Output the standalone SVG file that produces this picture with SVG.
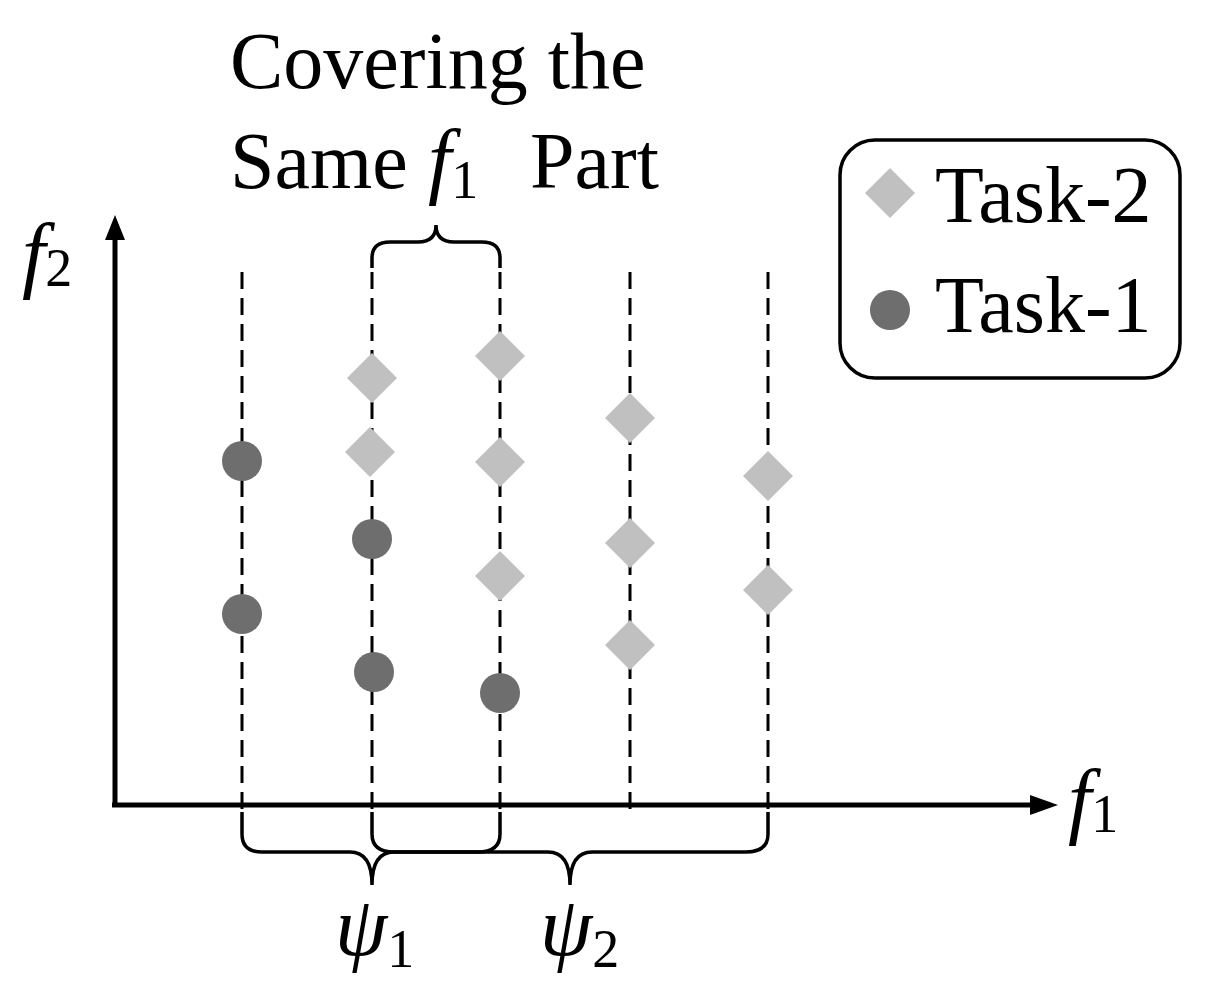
<svg xmlns="http://www.w3.org/2000/svg" width="1208" height="997" viewBox="0 0 1208 997">
<style>
.t{font-family:"Liberation Serif",serif;font-size:80px;fill:#000}
.i{font-family:"Liberation Serif",serif;font-style:italic;font-size:84px}
.s{font-family:"Liberation Serif",serif;font-style:normal;font-size:54px}
.d{stroke:#000;stroke-width:3;stroke-dasharray:17,9;fill:none}
.c{fill:#6e6e6e}
.m{fill:#c0c0c0}
.b{stroke:#000;stroke-width:3.5;fill:none}
</style>
<rect width="1208" height="997" fill="#fff"/>
<g id="title"><text class="t" x="230" y="88">Covering the</text>
<text class="t" x="230" y="188">Same</text>
<text class="i" x="428" y="188">f<tspan class="s" dy="10">1</tspan></text>
<text class="t" x="530" y="188">Part</text></g>
<g id="axes">
<line x1="115" y1="805" x2="115" y2="235" stroke="#000" stroke-width="5"/>
<path d="M105,240L115,215L125,240z"/>
<line x1="112" y1="805" x2="1035" y2="805" stroke="#000" stroke-width="5"/>
<path d="M1030,795L1058,805L1030,815z"/>
<text x="22" y="282" class="i">f<tspan class="s" dy="4">2</tspan></text>
<text x="1068" y="828" class="i">f<tspan class="s" dy="4">1</tspan></text>
</g>
<g id="connectors">
<line class="d" x1="242" y1="272" x2="242" y2="812"/>
<line class="d" x1="372" y1="272" x2="372" y2="812"/>
<line class="d" x1="500" y1="272" x2="500" y2="812"/>
<line class="d" x1="630" y1="272" x2="630" y2="812"/>
<line class="d" x1="768" y1="272" x2="768" y2="812"/>
<path class="b" d="M372,268V258Q372,242 390,242H418Q436,242 436,225Q436,242 454,242H482Q500,242 500,258V268"/>
<path class="b" d="M242,812V834Q242,852 262,852H350Q372,852 372,885Q372,852 394,852H478Q500,852 500,834V812"/>
<path class="b" d="M372,812V834Q372,852 394,852H548Q570,852 570,885Q570,852 592,852H746Q768,852 768,834V812"/>
</g>
<g id="task1">
<circle class="c" cx="242" cy="461" r="20"/><circle class="c" cx="242" cy="614" r="20"/>
<circle class="c" cx="372" cy="539" r="20"/><circle class="c" cx="374" cy="672" r="20"/>
<circle class="c" cx="500" cy="693" r="20"/>
</g>
<g id="task2">
<path class="m" d="M372,353l25,25l-25,25l-25,-25z"/>
<path class="m" d="M370,427l25,25l-25,25l-25,-25z"/>
<path class="m" d="M500,331l25,25l-25,25l-25,-25z"/>
<path class="m" d="M500,437l25,25l-25,25l-25,-25z"/>
<path class="m" d="M500,551l25,25l-25,25l-25,-25z"/>
<path class="m" d="M630,393l25,25l-25,25l-25,-25z"/>
<path class="m" d="M630,518l25,25l-25,25l-25,-25z"/>
<path class="m" d="M630,620l25,25l-25,25l-25,-25z"/>
<path class="m" d="M768,451l25,25l-25,25l-25,-25z"/>
<path class="m" d="M768,565l25,25l-25,25l-25,-25z"/>
</g>
<g id="psi">
<text x="335" y="955" class="i">ψ<tspan class="s" dy="12">1</tspan></text>
<text x="540" y="955" class="i">ψ<tspan class="s" dy="12">2</tspan></text>
</g>
<g id="legend">
<rect x="840" y="140" width="340" height="238" rx="35" fill="#fff" stroke="#000" stroke-width="3.5"/>
<path class="m" d="M890,168l25,25l-25,25l-25,-25z"/>
<text class="t" x="935" y="222">Task-2</text>
<circle class="c" cx="890" cy="310" r="20"/>
<text class="t" x="935" y="332">Task-1</text>
</g>
</svg>
